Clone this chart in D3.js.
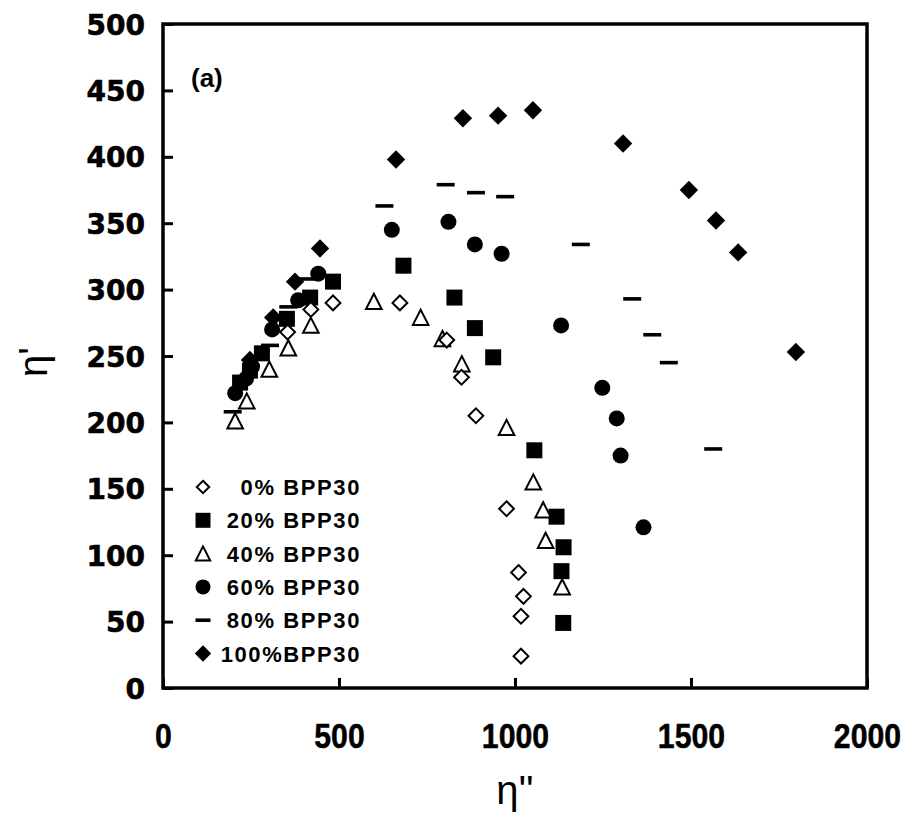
<!DOCTYPE html>
<html><head><meta charset="utf-8">
<script src="https://cdn.jsdelivr.net/npm/d3@7"></script>
<style>body{margin:0;background:#fff}svg{display:block}</style>
</head><body>
<svg id="c" width="906" height="822"></svg>
<script>
// ---- data ----
const seriesNames = ["0% BPP30", "20% BPP30", "40% BPP30", "60% BPP30", "80% BPP30", "100%BPP30"];
const s0x = [354,420,483,673,806,848,889,976,1010,1024,1017,1017];
const s0y = [268,285,290,290,262,234,205,135,87,69,54,24];
const s20x = [219,247,281,352,418,483,683,828,886,938,1055,1118,1138,1132,1137];
const s20y = [230,239,252,278,294,306,318,294,271,249,179,129,106,88,49];
const s40x = [205,238,302,356,420,599,732,794,849,976,1052,1080,1087,1134];
const s40y = [201,216,240,256,273,291,279,263,244,196,155,134,111,76];
const s60x = [205,236,253,310,384,441,650,811,886,962,1131,1248,1289,1300,1365];
const s60y = [222,233,242,270,292,312,345,351,334,327,273,226,203,175,121];
const s80x = [198,224,304,356,412,629,803,889,972,1187,1333,1390,1437,1563];
const s80y = [208,232,258,287,308,363,379,373,370,334,293,266,245,180];
const s100x = [247,313,375,446,662,852,952,1051,1307,1494,1571,1634,1798];
const s100y = [247,279,306,331,398,429,431,435,410,375,352,328,253];
const xTicks = [0,500,1000,1500,2000];
const yTicks = [0,50,100,150,200,250,300,350,400,450,500];

// ---- layout ----
const svg = d3.select("#c");
const L = 163, R = 867, T = 24, B = 688;
const x = d3.scaleLinear().domain([0,2000]).range([L,R]);
const y = d3.scaleLinear().domain([0,500]).range([B,T]);

// custom symbols (size = half-width in px)
const diamondSym = {draw(ctx, r){ctx.moveTo(0,-r);ctx.lineTo(r,0);ctx.lineTo(0,r);ctx.lineTo(-r,0);ctx.closePath();}};
const squareSym = {draw(ctx, r){ctx.rect(-r,-r,2*r,2*r);}};
const triSym = {draw(ctx, r){ctx.moveTo(0,-r);ctx.lineTo(r,r*0.95);ctx.lineTo(-r,r*0.95);ctx.closePath();}};
const circSym = {draw(ctx, r){ctx.moveTo(r,0);ctx.arc(0,0,r,0,2*Math.PI);}};
const dashSym = {draw(ctx, r){ctx.rect(-r,-1.8,2*r,3.6);}};

const styles = [
  {type: diamondSym, size: 7.4, fill: "#fff", stroke: "#000", sw: 2},
  {type: squareSym, size: 8, fill: "#000", stroke: "none", sw: 0},
  {type: triSym, size: 7.8, fill: "#fff", stroke: "#000", sw: 2},
  {type: circSym, size: 8, fill: "#000", stroke: "none", sw: 0},
  {type: dashSym, size: 9, fill: "#000", stroke: "none", sw: 0},
  {type: diamondSym, size: 9.2, fill: "#000", stroke: "none", sw: 0}
];
const legSizes = [6.2, 7.5, 7.2, 7.5, 7.5, 8.2];
const data = [
  d3.zip(s0x,s0y), d3.zip(s20x,s20y), d3.zip(s40x,s40y),
  d3.zip(s60x,s60y), d3.zip(s80x,s80y), d3.zip(s100x,s100y)
];

// axes (inward ticks)
const gx = svg.append("g").attr("transform",`translate(0,${B})`)
  .call(d3.axisBottom(x).tickValues(xTicks).tickSize(-10).tickPadding(51).tickFormat(d3.format("d")));
const gy = svg.append("g").attr("transform",`translate(${L},0)`)
  .call(d3.axisLeft(y).tickValues(yTicks).tickSize(-10).tickPadding(18).tickFormat(d3.format("d")));
[gx,gy].forEach(g=>{
  g.select(".domain").remove();
  g.selectAll(".tick line").attr("stroke","#000").attr("stroke-width",3);
});
gx.selectAll(".tick text").attr("font-family","Liberation Sans, Arial, sans-serif")
  .attr("font-weight","bold").attr("font-size",36).attr("fill","#000")
  .attr("stroke","#000").attr("stroke-width",0.5)
  .attr("transform","scale(0.84,1)").attr("dy","0.25em");
gy.selectAll(".tick text").attr("font-family","DejaVu Sans, sans-serif")
  .attr("font-weight","bold").attr("font-size",28).attr("fill","#000")
  .attr("stroke","#000").attr("stroke-width",0.6)
  .attr("dy","0.36em");

// frame
svg.append("rect").attr("x",L).attr("y",T).attr("width",R-L).attr("height",B-T)
  .attr("fill","none").attr("stroke","#000").attr("stroke-width",3.5);

// points: filled first, then open on top
const order = [1,3,4,5,2,0];
order.forEach(i=>{
  const st = styles[i];
  const sym = d3.symbol().type(st.type).size(st.size);
  svg.append("g").selectAll("path").data(data[i]).join("path")
    .attr("d", sym)
    .attr("transform", d=>`translate(${x(d[0])},${y(d[1])})`)
    .attr("fill", st.fill).attr("stroke", st.stroke).attr("stroke-width", st.sw);
});

// legend
const legX = 203, legY0 = 487, legDY = 33.3;
seriesNames.forEach((name,i)=>{
  const st = styles[i];
  const cy = legY0 + i*legDY;
  svg.append("path").attr("d", d3.symbol().type(st.type).size(legSizes[i])())
    .attr("transform",`translate(${legX},${cy})`)
    .attr("fill", st.fill).attr("stroke", st.stroke).attr("stroke-width", st.sw);
  svg.append("text").attr("x",361).attr("y",cy+8).attr("text-anchor","end")
    .attr("font-family","Liberation Sans, Arial, sans-serif").attr("font-weight","bold")
    .attr("font-size",22).attr("letter-spacing","1.6px").attr("fill","#000").text(name);
});

// panel label
svg.append("text").attr("x",191).attr("y",87)
  .attr("font-family","Liberation Sans, Arial, sans-serif").attr("font-weight","bold")
  .attr("font-size",26).text("(a)");

// axis titles
svg.append("text").attr("x",515).attr("y",804).attr("text-anchor","middle")
  .attr("font-family","Liberation Sans, Arial, sans-serif").attr("font-size",40)
  .text("η''");
svg.append("text").attr("transform","translate(47,362) rotate(-90)").attr("text-anchor","middle")
  .attr("font-family","Liberation Sans, Arial, sans-serif").attr("font-size",40)
  .text("η'");
</script>
</body></html>
